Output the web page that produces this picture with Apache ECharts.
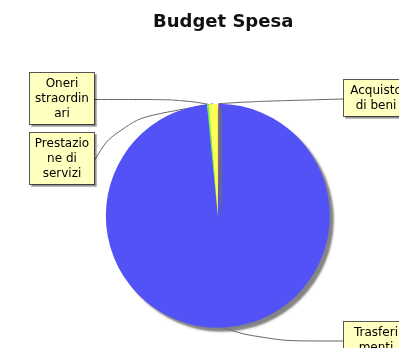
<!DOCTYPE html>
<html>
<head>
<meta charset="utf-8">
<script src="https://cdn.jsdelivr.net/npm/echarts@6/dist/echarts.min.js"></script>
<style>
  html, body { margin: 0; padding: 0; background: #fff; }
  #budget-pie { width: 399px; height: 348px; }
</style>
</head>
<body>
<div id="budget-pie"></div>
<script>
// voci di spesa (ordine JFreeChart, senso orario dalle 12)
var categories = ['Acquisto di beni', 'Trasferimenti', 'Oneri straordinari', 'Prestazione di servizi'];
var values = [0.15, 98.3, 0.25, 1.3];
var wrapped = ['Acquisto\ndi beni', 'Trasferi\nmenti', 'Oneri\nstraordin\nari', 'Prestazio\nne di\nservizi'];
var colors = ['#FF5555', '#5252F7', '#55FF55', '#FFFF55'];

// dove stanno i box delle etichette (centro x, top y)
var labelBoxes = [
    {x: 376, y: 80},
    {x: 376, y: 322},
    {x: 62, y: 73},
    {x: 62, y: 133}
];
// gomito della linea: frazione (x, y) tra bordo fetta e box
var elbows = [[0.25, 0.45], [0.35, 1], [0.24, 1], [0.8, 0.3]];

var myChart = echarts.init(document.getElementById('budget-pie'));
var option = {
    backgroundColor: '#fff',
    title: {
        text: 'Budget Spesa',
        left: 148,
        top: 8,
        textStyle: {
            fontFamily: 'DejaVu Sans',
            fontWeight: 'bold',
            fontSize: 18,
            color: '#111'
        }
    },
    series: [{
        type: 'pie',
        center: ['54.6%', '62%'],
        radius: 112,
        startAngle: 90,
        clockwise: true,
        animation: false,
        color: colors,
        itemStyle: {
            borderWidth: 0,
            shadowColor: 'rgba(110,110,110,0.85)',
            shadowBlur: 2,
            shadowOffsetX: 4,
            shadowOffsetY: 4
        },
        label: {
            show: true,
            position: 'outside',
            formatter: function (p) { return wrapped[p.dataIndex]; },
            fontFamily: 'DejaVu Sans',
            fontSize: 12,
            lineHeight: 15,
            color: '#000',
            width: 58,
            backgroundColor: '#FFFFC0',
            borderColor: '#555',
            borderWidth: 1,
            padding: [3, 3],
            shadowColor: 'rgba(0,0,0,0.25)',
            shadowOffsetX: 2,
            shadowOffsetY: 2,
            shadowBlur: 1
        },
        labelLine: {
            show: true,
            smooth: 0.5,
            length: 20,
            length2: 20,
            lineStyle: { color: '#666', width: 1 }
        },
        labelLayout: function (params) {
            var i = params.dataIndex;
            var b = labelBoxes[i];
            var w = params.labelRect.width, h = params.labelRect.height;
            var out = { x: b.x, y: b.y, align: 'center', verticalAlign: 'top' };
            var pts = params.labelLinePoints;
            if (pts && pts.length) {
                var edge = pts[0];
                var end = [edge[0] < b.x ? b.x - w / 2 : b.x + w / 2, b.y + h / 2];
                var f = elbows[i];
                var mid = [edge[0] + (end[0] - edge[0]) * f[0], edge[1] + (end[1] - edge[1]) * f[1]];
                out.labelLinePoints = [edge, mid, end];
            }
            return out;
        },
        data: categories.map(function (name, i) {
            return { name: name, value: values[i] };
        })
    }]
};
myChart.setOption(option);
</script>
</body>
</html>
